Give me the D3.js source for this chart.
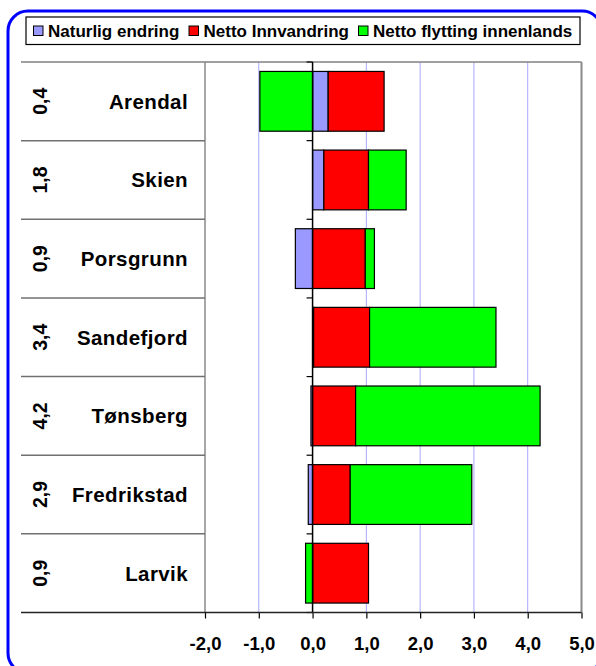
<!DOCTYPE html>
<html><head><meta charset="utf-8">
<script src="https://cdn.jsdelivr.net/npm/d3@7/dist/d3.min.js"></script>
<style>
html,body{margin:0;padding:0;background:#fff;}
svg{display:block;font-family:"Liberation Sans",Arial,sans-serif;font-weight:bold;}
</style></head>
<body>
<svg id="c" width="596" height="666"></svg>
<script>
const cities = ["Arendal","Skien","Porsgrunn","Sandefjord","Tønsberg","Fredrikstad","Larvik"];
const totals = [0.4,1.8,0.9,3.4,4.2,2.9,0.9];
const naturlig = [0.29,0.21,-0.32,0.02,-0.03,-0.08,0.0];
const innvandring = [1.04,0.83,0.98,1.04,0.80,0.70,1.04];
const flytting = [-0.98,0.70,0.17,2.35,3.43,2.26,-0.13];
const seriesNames = ["Naturlig endring","Netto Innvandring","Netto flytting innenlands"];
const seriesColors = ["#9999ff","#ff0000","#00ff00"];
const xTicks = [-2,-1,0,1,2,3,4,5];

const svg = d3.select("#c");
const fmt = v => d3.format(".1f")(v).replace(".", ",").replace("−","-");

// frame
svg.append("rect").attr("x",8).attr("y",11).attr("width",594).attr("height",662)
  .attr("rx",20).attr("fill","none").attr("stroke","#0000ff").attr("stroke-width",3);

const L = 205, R = 581.5, T = 62, B = 612.5, labL = 21;
const x = d3.scaleLinear().domain([-2,5]).range([L,R]);
const y = d3.scaleBand().domain(cities).range([T,B]).paddingInner(0.24).paddingOuter(0.12);
const rowStep = (B-T)/cities.length;

// gridlines
svg.append("g").selectAll("line").data(xTicks.filter(t=>t>-2&&t<5&&t!==0)).join("line")
  .attr("x1",d=>x(d)).attr("x2",d=>x(d)).attr("y1",T).attr("y2",B)
  .attr("stroke","#a8a8ff").attr("stroke-width",1);

// plot border
svg.append("line").attr("x1",labL).attr("x2",R).attr("y1",T).attr("y2",T).attr("stroke","#808080").attr("stroke-width",1.5);
svg.append("line").attr("x1",L).attr("x2",L).attr("y1",T).attr("y2",B).attr("stroke","#8a8a8a").attr("stroke-width",1.5);
svg.append("line").attr("x1",R).attr("x2",R).attr("y1",T).attr("y2",B).attr("stroke","#8a8a8a").attr("stroke-width",2);

// label table row lines
svg.append("g").selectAll("line").data(d3.range(1,cities.length)).join("line")
  .attr("x1",labL).attr("x2",L).attr("y1",i=>T+i*rowStep).attr("y2",i=>T+i*rowStep)
  .attr("stroke","#707070").attr("stroke-width",1.5);

// bars
const table = cities.map((c,i)=>({city:c,n:naturlig[i],i2:innvandring[i],f:flytting[i]}));
const stack = d3.stack().keys(["n","i2","f"]).offset(d3.stackOffsetDiverging);
const stacked = stack(table);
svg.append("g").selectAll("g").data(stacked).join("g")
  .attr("fill",(d,i)=>seriesColors[i])
  .selectAll("rect").data(d=>d).join("rect")
  .attr("x",d=>x(Math.min(d[0],d[1])))
  .attr("width",d=>Math.abs(x(d[1])-x(d[0])))
  .attr("y",d=>y(d.data.city))
  .attr("height",y.bandwidth())
  .attr("stroke","#000").attr("stroke-width",1.2)
  .attr("display",d=>Math.abs(d[1]-d[0])<1e-9?"none":null);

// zero (category) axis
svg.append("line").attr("x1",x(0)).attr("x2",x(0)).attr("y1",T).attr("y2",B).attr("stroke","#000").attr("stroke-width",1.5);
svg.append("g").selectAll("line").data(d3.range(0,cities.length+1)).join("line")
  .attr("x1",x(0)-6).attr("x2",x(0)).attr("y1",i=>T+i*rowStep).attr("y2",i=>T+i*rowStep)
  .attr("stroke","#000").attr("stroke-width",1.2);

// x axis
const xa = svg.append("g").attr("transform",`translate(0,${B})`)
  .call(d3.axisBottom(x).tickValues(xTicks).tickFormat(fmt).tickSize(6).tickPadding(18));
xa.select(".domain").remove();
xa.selectAll(".tick line").attr("stroke","#000").attr("stroke-width",1.2);
xa.selectAll(".tick text").attr("font-size","18.5px").attr("font-weight","bold").attr("font-family","Liberation Sans, Arial, sans-serif").attr("fill","#000");
svg.append("line").attr("x1",labL).attr("x2",R).attr("y1",B).attr("y2",B).attr("stroke","#222").attr("stroke-width",1.5);

// city labels
svg.append("g").selectAll("text").data(cities).join("text")
  .attr("x",188).attr("y",d=>y(d)+y.bandwidth()/2).attr("dy","0.36em")
  .attr("text-anchor","end").attr("font-size","20.5px").attr("letter-spacing","0.4px")
  .attr("fill","#000").text(d=>d);

// totals rotated
svg.append("g").selectAll("text").data(totals).join("text")
  .attr("transform",(d,i)=>`translate(47,${y(cities[i])+y.bandwidth()/2}) rotate(-90)`)
  .attr("text-anchor","middle").attr("font-size","19.5px").attr("fill","#000").text(d=>fmt(d));

// legend
const lg = svg.append("g");
lg.append("rect").attr("x",26).attr("y",17).attr("width",554).attr("height",27.5)
  .attr("fill","#fff").attr("stroke","#000").attr("stroke-width",1.2);
const legX = [33.5,189,358.5];
seriesNames.forEach((s,i)=>{
  lg.append("rect").attr("x",legX[i]).attr("y",26).attr("width",9.5).attr("height",9.5)
    .attr("fill",seriesColors[i]).attr("stroke","#000").attr("stroke-width",1);
  lg.append("text").attr("x",legX[i]+14.5).attr("y",31).attr("dy","0.36em")
    .attr("font-size","17px").attr("fill","#000").text(s);
});
</script>
</body></html>
